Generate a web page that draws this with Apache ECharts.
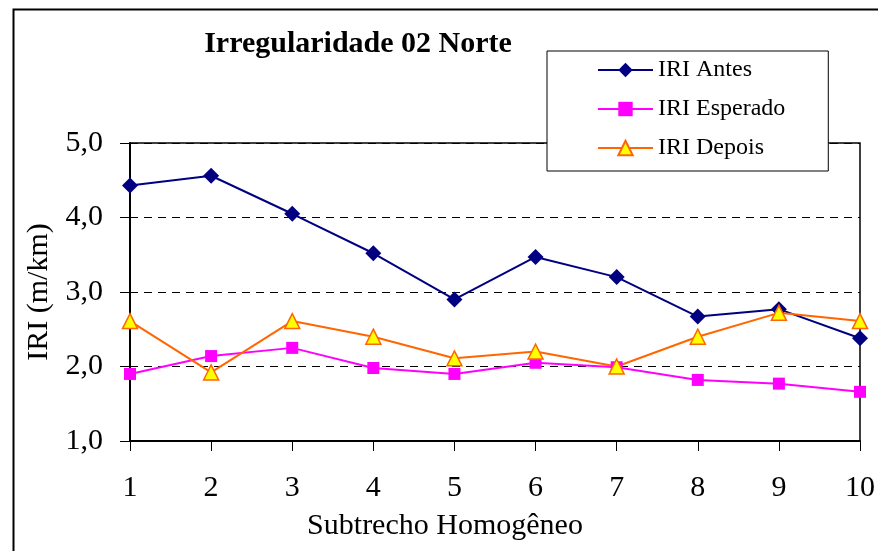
<!DOCTYPE html>
<html>
<head>
<meta charset="utf-8">
<script src="https://cdn.jsdelivr.net/npm/echarts@6/dist/echarts.min.js"></script>
<style>
	html, body { margin: 0; padding: 0; background: #fff; }
	#chart { width: 878px; height: 551px; }
</style>
</head>
<body>
<div id="chart"></div>
<script>
// dados
var subtrechos = ['1', '2', '3', '4', '5', '6', '7', '8', '9', '10'];
var iriAntes = [4.43, 4.56, 4.05, 3.52, 2.90, 3.47, 3.20, 2.67, 2.77, 2.38];
var iriEsperado = [1.90, 2.14, 2.25, 1.98, 1.90, 2.05, 1.99, 1.82, 1.77, 1.66];
var iriDepois = [2.61, 1.92, 2.61, 2.40, 2.11, 2.20, 2.00, 2.40, 2.72, 2.61];
var yTicks = [1, 2, 3, 4, 5];

var serif = 'Liberation Serif';

function showIriChart(divId) {
	var chart = echarts.init(document.getElementById(divId));
	var option = genIriOption();
	if (option && typeof option === "object") {
		chart.setOption(option, true);
	}
}

function genIriOption() {
	var option = {
		animation : false,
		backgroundColor : '#fff',
		title : {
			text : 'Irregularidade 02 Norte',
			left : 353,
			textAlign : 'center',
			top : 24,
			textStyle : {
				color : '#000',
				fontWeight : 'bold',
				fontFamily : serif,
				fontSize : 30
			}
		},
		graphic : [ {
			type : 'rect',
			left : 11,
			top : 7,
			shape : { width : 900, height : 600 },
			style : { fill : 'none', stroke : '#000', lineWidth : 2 },
			z : -10
		} ],
		legend : {
			orient : 'vertical',
			left : 547,
			top : 51,
			padding : [ 7, 43, 11, 50 ],
			itemGap : 15,
			itemWidth : 55,
			itemHeight : 18,
			backgroundColor : '#fff',
			borderColor : '#000',
			borderWidth : 1,
			textStyle : {
				color : '#000',
				fontFamily : serif,
				fontSize : 24
			},
			data : [ 'IRI Antes', 'IRI Esperado', 'IRI Depois' ]
		},
		grid : {
			left : 130,
			right : 18,
			top : 143,
			bottom : 110,
			show : true,
			borderColor : '#000',
			borderWidth : 1.5,
			backgroundColor : 'transparent'
		},
		xAxis : {
			type : 'category',
			data : subtrechos,
			boundaryGap : false,
			name : 'Subtrecho Homogêneo',
			nameLocation : 'middle',
			nameGap : 70,
			nameTextStyle : {
				color : '#000',
				fontFamily : serif,
				fontSize : 30,
				padding : [ 0, 100, 0, 0 ]
			},
			axisLine : { lineStyle : { color : '#000', width : 2 } },
			axisTick : { length : 10, lineStyle : { color : '#000', width : 1 } },
			axisLabel : {
				color : '#000',
				fontFamily : serif,
				fontSize : 30,
				margin : 32
			},
			splitLine : { show : false }
		},
		yAxis : {
			type : 'value',
			min : yTicks[0],
			max : yTicks[yTicks.length - 1],
			interval : 1,
			name : 'IRI (m/km)',
			nameLocation : 'middle',
			nameGap : 74,
			nameRotate : 90,
			nameTextStyle : {
				color : '#000',
				fontFamily : serif,
				fontSize : 30
			},
			axisLine : { show : true, lineStyle : { color : '#000', width : 2 } },
			axisTick : { show : true, length : 10, lineStyle : { color : '#000', width : 1 } },
			axisLabel : {
				color : '#000',
				fontFamily : serif,
				fontSize : 30,
				margin : 27,
				formatter : function (v) {
					return v.toFixed(1).replace('.', ',');
				}
			},
			splitLine : {
				show : true,
				lineStyle : { color : '#000', type : [ 8, 6 ], width : 1 }
			}
		},
		series : [ {
			name : 'IRI Antes',
			type : 'line',
			data : iriAntes,
			symbol : 'diamond',
			symbolSize : 16,
			color : '#000080',
			lineStyle : { color : '#000080', width : 2 },
			itemStyle : { color : '#000080' }
		}, {
			name : 'IRI Esperado',
			type : 'line',
			data : iriEsperado,
			symbol : 'rect',
			symbolSize : 12,
			color : '#ff00ff',
			lineStyle : { color : '#ff00ff', width : 2 },
			itemStyle : { color : '#ff00ff' }
		}, {
			name : 'IRI Depois',
			type : 'line',
			data : iriDepois,
			symbol : 'triangle',
			symbolSize : 15,
			color : '#ff6600',
			lineStyle : { color : '#ff6600', width : 2 },
			itemStyle : { color : '#ffff00', borderColor : '#ff6600', borderWidth : 1.5 }
		} ]
	};
	return option;
}

showIriChart('chart');
</script>
</body>
</html>
